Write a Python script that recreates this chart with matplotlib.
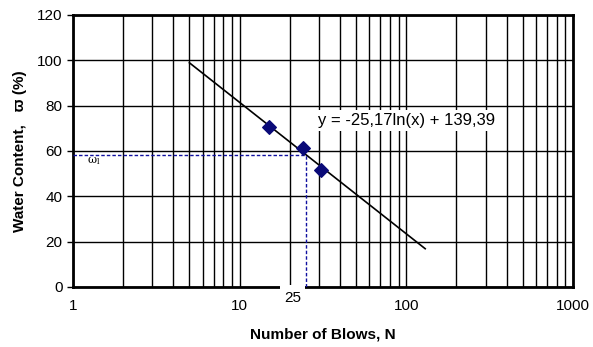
import numpy as np
import matplotlib
matplotlib.use('Agg')
import matplotlib.pyplot as plt
import matplotlib.transforms as mtransforms
from matplotlib.patches import Rectangle
from matplotlib.ticker import LogLocator, FixedLocator, NullFormatter

plt.rcParams['font.family'] = ['Liberation Sans', 'DejaVu Sans']

# data
blows = [15, 24, 31]
water = [70.5, 61.5, 51.5]
slope, intercept = -25.17, 139.39
trend_x = [5, 130]
n_ref = 25
w_liquid = slope * np.log(n_ref) + intercept

fig = plt.figure(figsize=(5.93, 3.47), dpi=100)
ax = fig.add_axes([0.123, 0.173, 0.843, 0.784])

ax.set_xscale('log')
ax.set_xlim(1, 1000)
ax.set_ylim(0, 120)
ax.set_yticks(np.arange(0, 121, 20))
ax.xaxis.set_major_locator(FixedLocator([1, 10, 100, 1000]))
ax.set_xticklabels(['1', '10', '100', '1000'])
ax.xaxis.set_minor_locator(LogLocator(base=10, subs=np.arange(2, 10)))
ax.xaxis.set_minor_formatter(NullFormatter())

ax.grid(True, which='major', color='black', linewidth=1.0)
ax.grid(True, which='minor', axis='x', color='black', linewidth=1.0)
ax.set_axisbelow(True)
for s in ax.spines.values():
    s.set_linewidth(2.0)
ax.tick_params(axis='both', which='major', labelsize=11, length=4, width=1)
ax.tick_params(axis='x', which='both', length=0, pad=9)

# trend line
tx = np.geomspace(trend_x[0], trend_x[1], 60)
ax.plot(tx, slope * np.log(tx) + intercept, color='black', linewidth=1.2, zorder=3)

# liquid limit construction lines
ax.plot([1, n_ref], [w_liquid, w_liquid], color='#1010a0', linestyle=(0, (2.5, 1.5)), linewidth=1.0, zorder=3)
ax.plot([n_ref, n_ref], [0, w_liquid], color='#1010a0', linestyle=(0, (2.5, 1.5)), linewidth=1.0, zorder=4)

ax.scatter(blows, water, marker='D', s=48, color='#0a0a78', zorder=5)

ax.text(100, 73.5, 'y = -25,17ln(x) + 139,39', fontsize=12, ha='center', va='center',
        bbox=dict(facecolor='white', edgecolor='none', pad=2), zorder=4)
ax.text(1.22, 55.5, r'$\mathregular{\omega_l}$', fontsize=8, family='DejaVu Serif',
        ha='left', va='center')

# "25" label box sitting on the x axis
trans = mtransforms.blended_transform_factory(ax.transData, ax.transAxes)
box_left = 17.5
ax.add_patch(Rectangle((box_left, -0.06), n_ref * 0.985 - box_left, 0.068, transform=trans,
                       facecolor='white', edgecolor='none', clip_on=False, zorder=6))
ax.text(np.sqrt(box_left * n_ref), -0.015, '25', transform=trans, fontsize=11,
        ha='center', va='top', clip_on=False, zorder=7)

ax.set_xlabel('Number of Blows, N', fontsize=11, fontweight='bold', labelpad=10)
ax.set_ylabel('Water Content,   ϖ (%)', fontsize=11, fontweight='bold', labelpad=7)

fig.savefig('out.png', dpi=100)
